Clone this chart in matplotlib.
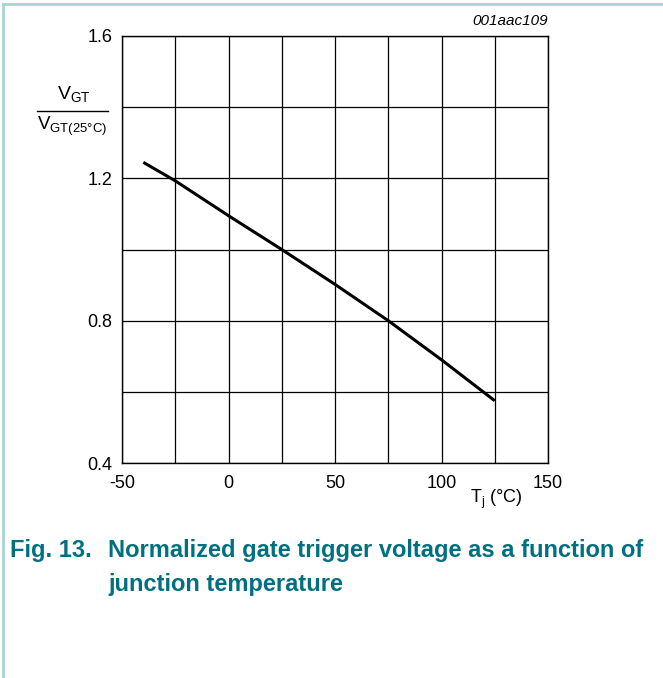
import matplotlib
matplotlib.use('Agg')
import matplotlib.pyplot as plt
from matplotlib.lines import Line2D

# data
tj = [-40, -25, 0, 25, 50, 75, 100, 125]
vgt_ratio = [1.245, 1.193, 1.095, 1.0, 0.902, 0.8, 0.69, 0.575]

x_ticks = [-50, 0, 50, 100, 150]
y_ticks = [0.4, 0.8, 1.2, 1.6]

W, H = 663, 678
fig = plt.figure(figsize=(W / 100, H / 100), dpi=100)
plt.rcParams['font.family'] = ['Liberation Sans', 'DejaVu Sans']

# axes placed in pixel coordinates of the reference
left, right, top, bottom = 122, 548, 36, 463
ax = fig.add_axes([left / W, 1 - bottom / H, (right - left) / W, (bottom - top) / H])

ax.plot(tj, vgt_ratio, color='black', lw=2.2, solid_capstyle='butt')

ax.set_xlim(-50, 150)
ax.set_ylim(0.4, 1.6)
ax.set_xticks(range(-50, 151, 25), minor=True)
ax.set_yticks([0.4 + 0.2 * i for i in range(7)], minor=True)
ax.set_xticks(x_ticks)
ax.set_yticks(y_ticks)
ax.set_xticklabels([str(v) for v in x_ticks])
ax.set_yticklabels([f'{v:.1f}' for v in y_ticks])
ax.grid(True, which='both', color='black', lw=0.9)
ax.tick_params(which='both', length=0, labelsize=13)
ax.tick_params(axis='x', pad=9)
ax.tick_params(axis='y', pad=7)
for s in ax.spines.values():
    s.set_linewidth(1.0)

# y label as a fraction
fig.text(74 / W, 1 - 95 / H, r'V$_{\mathregular{GT}}$', ha='center', va='center', fontsize=14)
fig.text(72 / W, 1 - 126 / H, r'V$_{\mathregular{GT(25°C)}}$', ha='center', va='center', fontsize=13.5)
fig.add_artist(Line2D([37 / W, 108 / W], [1 - 111 / H, 1 - 111 / H], color='black', lw=1.0))

fig.text(496 / W, 1 - 499 / H, r'T$_{\mathregular{j}}$ (°C)', ha='center', va='center', fontsize=13)
fig.text(548 / W, 1 - 21 / H, '001aac109', ha='right', va='center', fontsize=11, style='italic')

# caption
teal = '#00707f'
cap = dict(ha='left', va='center', fontsize=17, fontweight='bold', color=teal)
fig.text(10 / W, 1 - 551 / H, 'Fig. 13.', **cap)
fig.text(108 / W, 1 - 551 / H, 'Normalized gate trigger voltage as a function of', **cap)
fig.text(108 / W, 1 - 585 / H, 'junction temperature', **cap)

# page frame lines (top and left)
frame = '#a8d4d8'
fig.add_artist(Line2D([3 / W, 1], [1 - 4 / H, 1 - 4 / H], color=frame, lw=2))
fig.add_artist(Line2D([3 / W, 3 / W], [0, 1 - 4 / H], color=frame, lw=2))

fig.savefig('out.png', dpi=100)
